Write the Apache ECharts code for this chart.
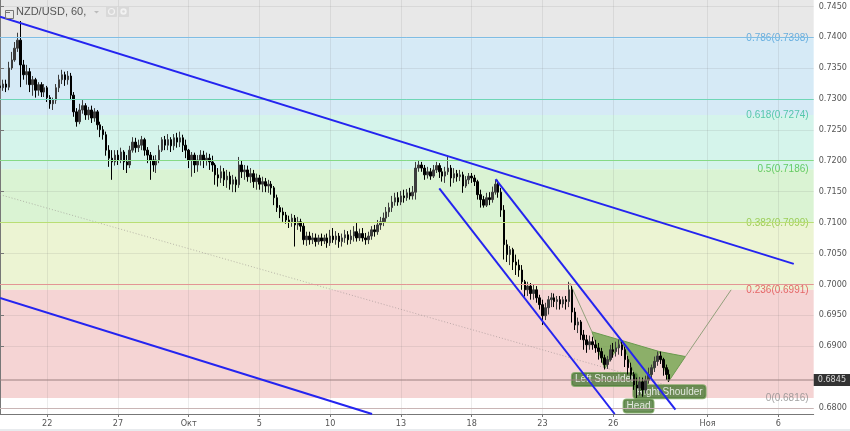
<!DOCTYPE html>
<html><head><meta charset="utf-8">
<script src="https://cdn.jsdelivr.net/npm/echarts@6/dist/echarts.min.js"></script>
<style>html,body{margin:0;padding:0;background:#e8ebee;} #c{width:850px;height:429px;background:#fff;}</style>
</head><body><div id="c"></div>
<script>
// ---- data ----
const N_SLOTS = 277; // 3-hour slots (8 per trading day)
const labelSlots = [16, 40, 64, 88, 112, 136, 160, 184, 208, 240, 264];
const labelTexts = ['22', '27', 'Окт', '5', '10', '13', '18', '23', '26', 'Ноя', '6'];
const yTicks = [0.6800, 0.6900, 0.6950, 0.7000, 0.7050, 0.7100, 0.7150, 0.7200, 0.7250, 0.7300, 0.7350, 0.7400, 0.7450];
const lastPrice = 0.6845;
// candles: [open, close, low, high]
const candles = [
[0.7321,0.7318,0.7314,0.7326],[0.7318,0.7324,0.7313,0.7331],[0.7324,0.7319,0.7311,0.7331],[0.7319,0.7350,0.7314,0.7360],
[0.7350,0.7363,0.7347,0.7376],[0.7363,0.7382,0.7360,0.7392],[0.7382,0.7395,0.7376,0.7407],[0.7395,0.7355,0.7319,0.7426],
[0.7355,0.7339,0.7331,0.7363],[0.7339,0.7344,0.7323,0.7355],[0.7344,0.7323,0.7311,0.7350],[0.7323,0.7331,0.7305,0.7337],
[0.7331,0.7314,0.7302,0.7334],[0.7314,0.7323,0.7305,0.7327],[0.7323,0.7311,0.7303,0.7327],[0.7311,0.7318,0.7303,0.7324],
[0.7318,0.7302,0.7295,0.7321],[0.7302,0.7292,0.7284,0.7306],[0.7292,0.7298,0.7282,0.7302],[0.7298,0.7318,0.7292,0.7324],
[0.7318,0.7331,0.7311,0.7339],[0.7331,0.7339,0.7324,0.7347],[0.7339,0.7331,0.7321,0.7344],[0.7331,0.7337,0.7323,0.7345],
[0.7337,0.7306,0.7298,0.7342],[0.7306,0.7279,0.7271,0.7311],[0.7279,0.7263,0.7255,0.7285],[0.7263,0.7282,0.7259,0.7292],
[0.7282,0.7289,0.7276,0.7298],[0.7289,0.7274,0.7266,0.7293],[0.7274,0.7282,0.7266,0.7287],[0.7282,0.7269,0.7261,0.7289],
[0.7269,0.7279,0.7263,0.7285],[0.7279,0.7258,0.7250,0.7282],[0.7258,0.7250,0.7238,0.7263],[0.7250,0.7242,0.7234,0.7256],
[0.7242,0.7217,0.7208,0.7247],[0.7217,0.7204,0.7190,0.7225],[0.7204,0.7198,0.7169,0.7217],[0.7198,0.7209,0.7192,0.7217],
[0.7209,0.7201,0.7193,0.7217],[0.7201,0.7214,0.7196,0.7221],[0.7214,0.7198,0.7185,0.7217],[0.7198,0.7193,0.7180,0.7209],
[0.7193,0.7217,0.7188,0.7224],[0.7217,0.7230,0.7213,0.7238],[0.7230,0.7221,0.7213,0.7237],[0.7221,0.7225,0.7214,0.7234],
[0.7225,0.7234,0.7217,0.7240],[0.7234,0.7217,0.7208,0.7237],[0.7217,0.7209,0.7196,0.7222],[0.7209,0.7201,0.7169,0.7214],
[0.7201,0.7193,0.7182,0.7208],[0.7193,0.7201,0.7180,0.7209],[0.7201,0.7217,0.7196,0.7225],[0.7217,0.7234,0.7214,0.7238],
[0.7234,0.7225,0.7217,0.7240],[0.7225,0.7234,0.7217,0.7243],[0.7234,0.7224,0.7214,0.7238],[0.7224,0.7237,0.7217,0.7243],
[0.7237,0.7230,0.7221,0.7245],[0.7230,0.7237,0.7222,0.7247],[0.7237,0.7225,0.7214,0.7242],[0.7225,0.7217,0.7204,0.7234],
[0.7217,0.7201,0.7188,0.7219],[0.7201,0.7209,0.7174,0.7214],[0.7209,0.7193,0.7180,0.7213],[0.7193,0.7201,0.7182,0.7209],
[0.7201,0.7209,0.7192,0.7217],[0.7209,0.7201,0.7188,0.7216],[0.7201,0.7204,0.7192,0.7213],[0.7204,0.7198,0.7185,0.7211],
[0.7198,0.7193,0.7182,0.7208],[0.7193,0.7177,0.7161,0.7196],[0.7177,0.7172,0.7158,0.7188],[0.7172,0.7182,0.7164,0.7192],
[0.7182,0.7169,0.7159,0.7188],[0.7169,0.7175,0.7156,0.7185],[0.7175,0.7162,0.7153,0.7182],[0.7162,0.7169,0.7149,0.7177],
[0.7169,0.7161,0.7149,0.7174],[0.7161,0.7193,0.7156,0.7206],[0.7193,0.7182,0.7172,0.7201],[0.7182,0.7185,0.7169,0.7193],
[0.7185,0.7174,0.7166,0.7192],[0.7174,0.7179,0.7164,0.7188],[0.7179,0.7166,0.7156,0.7185],[0.7166,0.7172,0.7153,0.7179],
[0.7172,0.7162,0.7153,0.7177],[0.7162,0.7166,0.7149,0.7174],[0.7166,0.7159,0.7149,0.7172],[0.7159,0.7162,0.7148,0.7169],
[0.7162,0.7156,0.7145,0.7167],[0.7156,0.7140,0.7128,0.7159],[0.7140,0.7124,0.7117,0.7145],[0.7124,0.7117,0.7107,0.7128],
[0.7117,0.7112,0.7101,0.7124],[0.7112,0.7104,0.7098,0.7117],[0.7104,0.7101,0.7091,0.7111],[0.7101,0.7107,0.7093,0.7114],
[0.7107,0.7096,0.7061,0.7112],[0.7096,0.7101,0.7088,0.7109],[0.7101,0.7094,0.7085,0.7106],[0.7094,0.7072,0.7064,0.7099],
[0.7072,0.7078,0.7062,0.7085],[0.7078,0.7072,0.7064,0.7085],[0.7072,0.7075,0.7065,0.7083],[0.7075,0.7069,0.7061,0.7082],
[0.7069,0.7075,0.7064,0.7080],[0.7075,0.7070,0.7062,0.7082],[0.7070,0.7075,0.7065,0.7080],[0.7075,0.7067,0.7059,0.7082],
[0.7067,0.7078,0.7062,0.7088],[0.7078,0.7072,0.7067,0.7091],[0.7072,0.7078,0.7064,0.7086],[0.7078,0.7069,0.7059,0.7083],
[0.7069,0.7075,0.7061,0.7082],[0.7075,0.7080,0.7067,0.7088],[0.7080,0.7072,0.7064,0.7086],[0.7072,0.7078,0.7065,0.7088],
[0.7078,0.7085,0.7069,0.7094],[0.7085,0.7075,0.7069,0.7099],[0.7075,0.7082,0.7070,0.7090],[0.7082,0.7075,0.7069,0.7091],
[0.7075,0.7072,0.7064,0.7083],[0.7072,0.7078,0.7065,0.7085],[0.7078,0.7088,0.7072,0.7094],[0.7088,0.7085,0.7077,0.7096],
[0.7085,0.7096,0.7080,0.7104],[0.7096,0.7101,0.7088,0.7109],[0.7101,0.7107,0.7094,0.7116],[0.7107,0.7117,0.7101,0.7125],
[0.7117,0.7124,0.7109,0.7132],[0.7124,0.7133,0.7117,0.7143],[0.7133,0.7140,0.7127,0.7148],[0.7140,0.7133,0.7127,0.7149],
[0.7133,0.7143,0.7128,0.7151],[0.7143,0.7140,0.7132,0.7153],[0.7140,0.7148,0.7135,0.7154],[0.7148,0.7143,0.7137,0.7156],
[0.7143,0.7149,0.7137,0.7159],[0.7149,0.7188,0.7137,0.7198],[0.7188,0.7193,0.7182,0.7200],[0.7193,0.7188,0.7182,0.7198],
[0.7188,0.7177,0.7169,0.7193],[0.7177,0.7182,0.7171,0.7190],[0.7182,0.7175,0.7169,0.7188],[0.7175,0.7185,0.7172,0.7193],
[0.7185,0.7192,0.7180,0.7198],[0.7192,0.7182,0.7172,0.7196],[0.7182,0.7175,0.7166,0.7188],[0.7175,0.7182,0.7164,0.7190],
[0.7182,0.7188,0.7177,0.7208],[0.7188,0.7172,0.7158,0.7193],[0.7172,0.7179,0.7164,0.7188],[0.7179,0.7174,0.7166,0.7185],
[0.7174,0.7177,0.7167,0.7185],[0.7177,0.7159,0.7148,0.7182],[0.7159,0.7169,0.7156,0.7175],[0.7169,0.7175,0.7162,0.7180],
[0.7175,0.7172,0.7164,0.7180],[0.7172,0.7166,0.7159,0.7177],[0.7166,0.7145,0.7137,0.7169],[0.7145,0.7137,0.7124,0.7153],
[0.7137,0.7128,0.7124,0.7143],[0.7128,0.7140,0.7125,0.7148],[0.7140,0.7137,0.7128,0.7149],[0.7137,0.7149,0.7132,0.7158],
[0.7149,0.7162,0.7145,0.7169],[0.7162,0.7149,0.7140,0.7169],[0.7149,0.7120,0.7109,0.7156],[0.7120,0.7064,0.7040,0.7128],
[0.7064,0.7048,0.7036,0.7072],[0.7048,0.7056,0.7031,0.7062],[0.7056,0.7036,0.7023,0.7059],[0.7036,0.7031,0.7015,0.7048],
[0.7031,0.7023,0.7012,0.7040],[0.7023,0.7004,0.6991,0.7031],[0.7004,0.6991,0.6980,0.7007],[0.6991,0.6997,0.6981,0.7004],
[0.6997,0.6985,0.6975,0.7002],[0.6985,0.6991,0.6975,0.6999],[0.6991,0.6978,0.6970,0.6997],[0.6978,0.6967,0.6959,0.6983],
[0.6967,0.6949,0.6934,0.6975],[0.6949,0.6962,0.6942,0.6970],[0.6962,0.6975,0.6951,0.6981],[0.6975,0.6978,0.6963,0.6986],
[0.6978,0.6972,0.6963,0.6985],[0.6972,0.6975,0.6959,0.6981],[0.6975,0.6968,0.6959,0.6981],[0.6968,0.6975,0.6962,0.6980],
[0.6975,0.6972,0.6959,0.6981],[0.6972,0.6991,0.6963,0.7004],[0.6991,0.6955,0.6938,0.6997],[0.6955,0.6934,0.6926,0.6962],
[0.6934,0.6939,0.6921,0.6946],[0.6939,0.6918,0.6910,0.6942],[0.6918,0.6910,0.6894,0.6926],[0.6910,0.6902,0.6889,0.6918],
[0.6902,0.6907,0.6894,0.6917],[0.6907,0.6902,0.6894,0.6915],[0.6902,0.6897,0.6889,0.6910],[0.6897,0.6891,0.6878,0.6905],
[0.6891,0.6881,0.6873,0.6897],[0.6881,0.6870,0.6862,0.6886],[0.6870,0.6878,0.6863,0.6884],[0.6878,0.6894,0.6875,0.6902],
[0.6894,0.6891,0.6881,0.6905],[0.6891,0.6897,0.6883,0.6907],[0.6897,0.6902,0.6886,0.6910],[0.6902,0.6894,0.6884,0.6910],
[0.6894,0.6878,0.6866,0.6899],[0.6878,0.6865,0.6854,0.6884],[0.6865,0.6854,0.6845,0.6873],[0.6854,0.6837,0.6829,0.6858],
[0.6837,0.6832,0.6816,0.6849],[0.6832,0.6842,0.6820,0.6850],[0.6842,0.6829,0.6818,0.6849],[0.6829,0.6845,0.6823,0.6852],
[0.6845,0.6854,0.6839,0.6865],[0.6854,0.6865,0.6845,0.6870],[0.6865,0.6875,0.6858,0.6883],[0.6875,0.6884,0.6868,0.6891],
[0.6884,0.6878,0.6871,0.6891],[0.6878,0.6865,0.6852,0.6881],[0.6865,0.6854,0.6845,0.6870],[0.6854,0.6845,0.6842,0.6862]
];
// Fibonacci retracement
const fibRatios = ['1', '0.786', '0.618', '0.5', '0.382', '0.236', '0'];
const fibPrices = [0.7556, 0.7398, 0.7274, 0.7186, 0.7099, 0.6991, 0.6816];
const fibBandColors = ['#e8e8e8', '#d6eaf6', '#d5f4eb', '#daf3d3', '#ecf4d3', '#f5d4d4'];
const fibLineColors = ['#cccccc', '#7fbde4', '#6fd6b6', '#86da86', '#b9de74', '#e39595', '#c9b5b5'];
const fibTextColors = ['#888888', '#4a9fd9', '#35bd98', '#46c046', '#8cc43a', '#e04a4a', '#8c8c8c'];
// drawings: [slot, price] pairs
const trendLines = [
  [[0, 0.7433], [269.25, 0.7033]],
  [[0, 0.6978], [126.2, 0.6790]],
  [[149.0, 0.7155], [208.5, 0.6790]],
  [[168.1, 0.7170], [229.1, 0.6797]]
];
const dottedLine = [[0, 0.7145], [239.6, 0.6818]];
const hsTriangles = [
  [200.8, 0.6923, 205.1, 0.6863, 210.9, 0.6909],
  [210.9, 0.6909, 218.0, 0.6818, 223.7, 0.6891],
  [223.7, 0.6891, 226.7, 0.6842, 232.5, 0.6883]
];
const hsLegs = [
  [[193.3, 0.7002], [200.8, 0.6923]],
  [[232.5, 0.6883], [248.0, 0.6991]]
];
const hsLabels = [
  {name: 'Left Shoulder', value: [205.1, 0.6846]},
  {name: 'Right Shoulder', value: [227.1, 0.6826]},
  {name: 'Head', value: [216.6, 0.6803]}
];

// ---- chart ----
const NARROW = "'Liberation Sans Narrow','DejaVu Sans Condensed','Liberation Sans',Arial,sans-serif";
const categories = Array.from({length: N_SLOTS}, (_, i) => {
  const k = labelSlots.indexOf(i); return k >= 0 ? labelTexts[k] : '';
});
const isLabel = (i) => labelSlots.indexOf(i) >= 0;
const gridColor = 'rgba(110,110,110,0.13)';

const bandData = [];
for (let i = 0; i < fibPrices.length - 1; i++) {
  bandData.push([{yAxis: fibPrices[i + 1], itemStyle: {color: fibBandColors[i]}}, {yAxis: fibPrices[i]}]);
}
const levelLines = fibPrices.slice(1).map((p, k) => ({yAxis: p, lineStyle: {color: fibLineColors[k + 1], width: 1, type: 'solid'}}));
const fibLabelData = fibPrices.slice(1).map((p, k) => ({
  value: [N_SLOTS - 1, p],
  label: {formatter: fibRatios[k + 1] + '(' + p.toFixed(4) + ')', color: fibTextColors[k + 1]}
}));

const series = [
  { // fib bands and level lines
    type: 'line', xAxisIndex: 1, data: [[0, 0.70]], symbol: 'none', lineStyle: {opacity: 0}, z: 1, silent: true,
    markArea: {silent: true, data: bandData},
    markLine: {silent: true, symbol: 'none', label: {show: false}, data: levelLines}
  },
  { // fib labels
    type: 'scatter', xAxisIndex: 1, data: fibLabelData, symbolSize: 0.1, itemStyle: {color: 'transparent'}, z: 3, silent: true,
    label: {show: true, position: 'left', distance: 5, fontSize: 10, fontFamily: "'Liberation Sans',Arial,sans-serif"}
  },
  { // dotted line
    type: 'line', xAxisIndex: 1, data: dottedLine, symbol: 'none', z: 3, silent: true,
    lineStyle: {color: 'rgba(150,140,140,0.6)', width: 1, type: [1, 2]}
  },
  { // last price line
    type: 'line', xAxisIndex: 1, data: [[0, lastPrice], [N_SLOTS - 1, lastPrice]], symbol: 'none', z: 5, silent: true,
    lineStyle: {color: '#9c8080', width: 1}
  },
  { // last price tag
    type: 'scatter', xAxisIndex: 1, data: [[N_SLOTS - 1, lastPrice]], symbolSize: 0.1, itemStyle: {color: 'transparent'},
    z: 7, silent: true, clip: false,
    label: {show: true, position: 'right', distance: 0, formatter: lastPrice.toFixed(4), color: '#fff',
      backgroundColor: '#000', padding: [2, 5, 1, 4], fontSize: 9, fontFamily: NARROW}
  },
  { // H&S triangles
    type: 'custom', xAxisIndex: 1, data: hsTriangles, z: 3, silent: true,
    renderItem: function (params, api) {
      const pts = [0, 1, 2].map(k => api.coord([api.value(2 * k), api.value(2 * k + 1)]));
      return {type: 'polygon', shape: {points: pts}, style: {fill: 'rgba(96,160,60,0.7)', stroke: '#6a9a4e', lineWidth: 1}};
    }
  }
];
hsLegs.forEach(seg => series.push({
  type: 'line', xAxisIndex: 1, data: seg, symbol: 'none', z: 3, silent: true,
  lineStyle: {color: '#93a07c', width: 1}
}));
series.push({ // H&S labels
  type: 'scatter', xAxisIndex: 1, data: hsLabels, symbolSize: 0.1, itemStyle: {color: 'transparent'}, z: 3, silent: true,
  label: {show: true, position: 'inside', formatter: '{b}', color: '#fff', fontSize: 10,
    backgroundColor: '#4b7836', borderColor: '#73a058', borderWidth: 1, borderRadius: 3, padding: [2, 3, 1, 3],
    fontFamily: "'Liberation Sans',Arial,sans-serif"}
});
series.push({ // candles
  type: 'candlestick', xAxisIndex: 0, data: candles, barWidth: 2, z: 4, silent: true,
  itemStyle: {color: '#3c3c3c', color0: '#000000', borderColor: '#3c3c3c', borderColor0: '#000000', borderWidth: 1}
});
trendLines.forEach(seg => series.push({
  type: 'line', xAxisIndex: 1, data: seg, symbol: 'none', z: 6, silent: true,
  lineStyle: {color: '#2424f0', width: 2}
}));

const chart = echarts.init(document.getElementById('c'));
chart.setOption({
  animation: false,
  textStyle: {fontFamily: "'Liberation Sans',Arial,sans-serif"},
  grid: {left: 0, right: 32, top: 0, bottom: 15},
  xAxis: [
    {
      type: 'category', data: categories, boundaryGap: false, z: 2,
      axisLine: {lineStyle: {color: '#777'}},
      axisTick: {interval: (i) => isLabel(i), length: 3, lineStyle: {color: '#777'}},
      axisLabel: {interval: (i) => isLabel(i), color: '#555', fontSize: 9, margin: 5, fontFamily: NARROW},
      splitLine: {show: true, interval: (i) => isLabel(i), lineStyle: {color: gridColor}}
    },
    {type: 'value', min: 0, max: N_SLOTS - 1, show: false}
  ],
  yAxis: {
    type: 'value', position: 'right', min: 0.679, max: 0.746, z: 2,
    axisLine: {show: true, lineStyle: {color: '#777'}},
    axisTick: {show: true, length: 4, customValues: yTicks, lineStyle: {color: '#777'}},
    axisLabel: {customValues: yTicks, color: '#555', fontSize: 9, margin: 5, fontFamily: NARROW,
      formatter: (v) => v.toFixed(4)},
    splitLine: {show: true, lineStyle: {color: gridColor}}
  },
  graphic: [
    {type: 'rect', left: 3, top: 8, shape: {width: 8, height: 8}, style: {fill: 'none', stroke: '#777', lineWidth: 1}, z: 10},
    {type: 'line', shape: {x1: 5, y1: 12.5, x2: 10, y2: 12.5}, style: {stroke: '#777', lineWidth: 1}, z: 10},
    {type: 'text', left: 16, top: 6, style: {text: 'NZD/USD, 60,', fill: '#555', font: "11px 'Liberation Sans',Arial,sans-serif"}, z: 10},
    {type: 'polygon', shape: {points: [[94, 11], [99, 11], [96.5, 13.5]]}, style: {fill: '#bbb'}, z: 10},
    {type: 'rect', left: 106, top: 6, shape: {width: 11, height: 11, r: 1}, style: {fill: '#d9d9d9'}, z: 10},
    {type: 'circle', shape: {cx: 111.5, cy: 11.5, r: 3}, style: {fill: 'none', stroke: '#f2f2f2', lineWidth: 1.2}, z: 11},
    {type: 'rect', left: 118, top: 6, shape: {width: 11, height: 11, r: 1}, style: {fill: '#d9d9d9'}, z: 10},
    {type: 'circle', shape: {cx: 123.5, cy: 11.5, r: 3.2}, style: {fill: '#f2f2f2'}, z: 11},
    {type: 'circle', shape: {cx: 123.5, cy: 11.5, r: 1.3}, style: {fill: '#d9d9d9'}, z: 12}
  ],
  series: series
});
</script></body></html>
